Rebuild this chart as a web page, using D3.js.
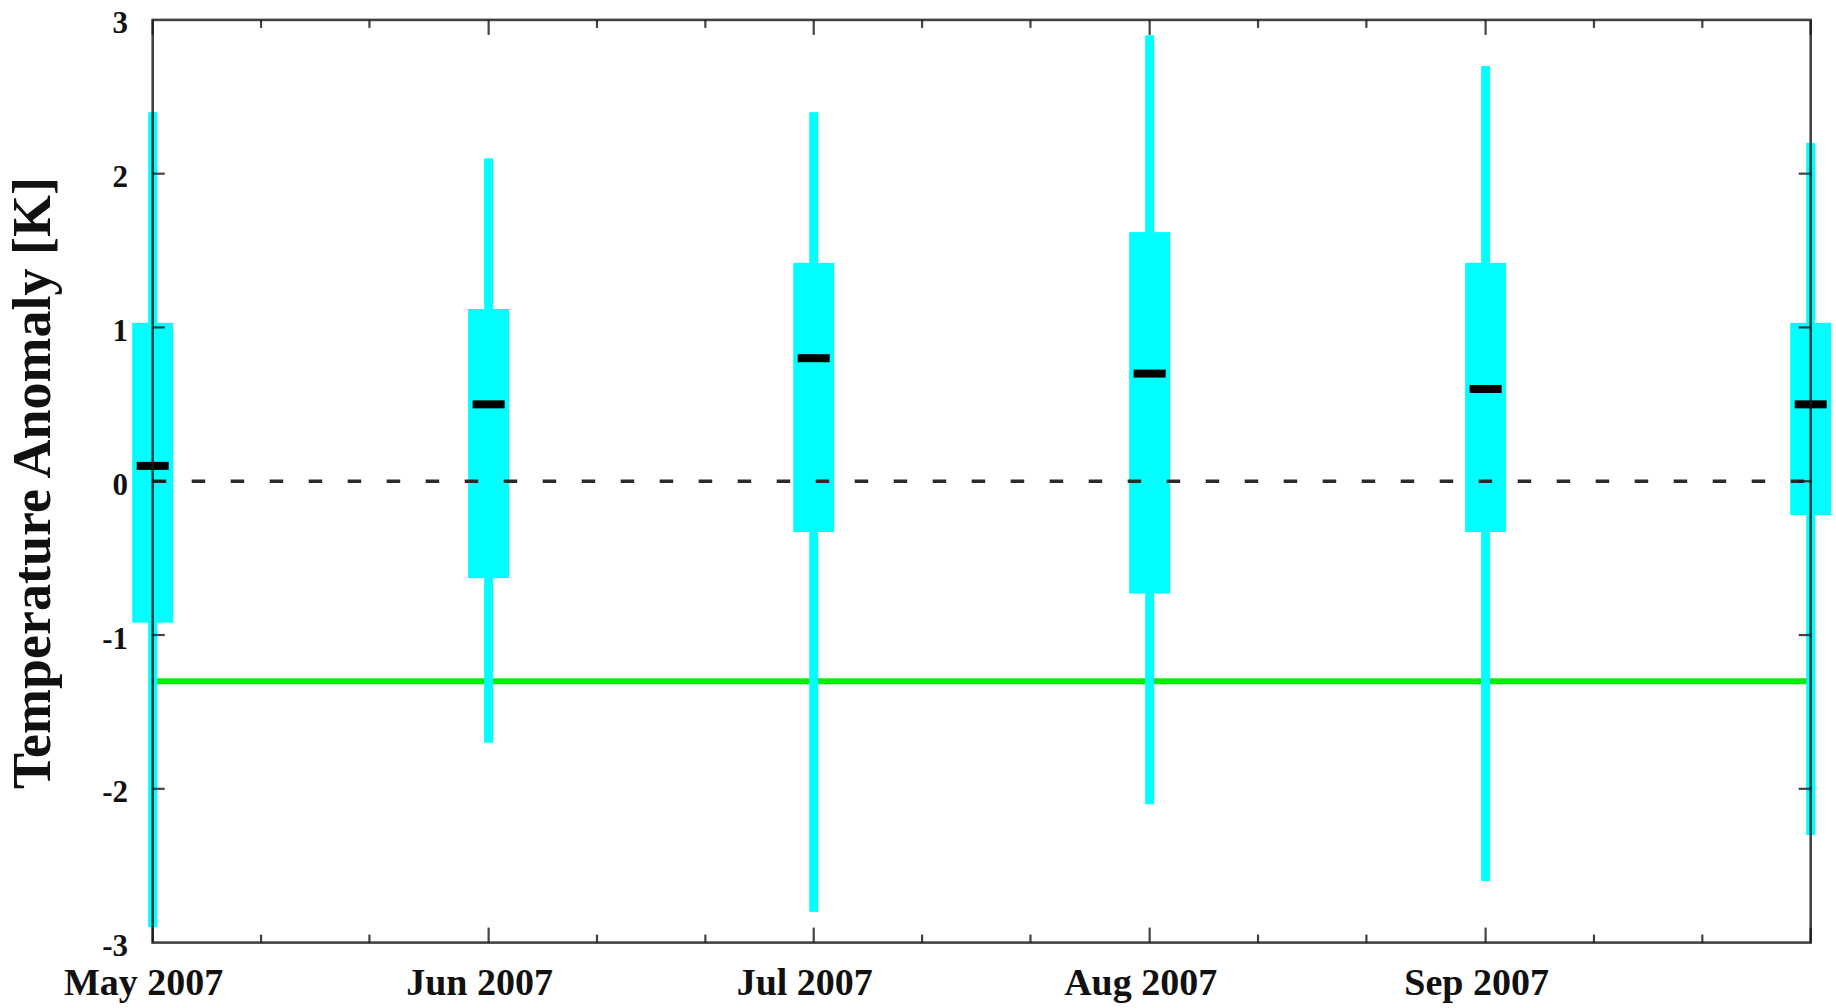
<!DOCTYPE html>
<html>
<head>
<meta charset="utf-8">
<script src="https://cdn.jsdelivr.net/npm/d3@7"></script>
<style>
  html, body { margin: 0; padding: 0; background: #ffffff; }
  svg { display: block; }
  text { font-family: "Liberation Serif", "Times New Roman", serif; fill: #111; }
</style>
</head>
<body>
<svg id="chart" width="1836" height="1008"></svg>
<script>
// ---- data ----
const boxDates    = ["2007-05-01", "2007-06-01", "2007-07-01", "2007-08-01", "2007-09-01", "2007-10-01"];
const whiskerHigh = [2.40, 2.10, 2.40, 2.90, 2.70, 2.20];
const boxHigh     = [1.03, 1.12, 1.42, 1.62, 1.42, 1.03];
const medians     = [0.10, 0.50, 0.80, 0.70, 0.60, 0.50];
const boxLow      = [-0.92, -0.63, -0.33, -0.73, -0.33, -0.22];
const whiskerLow  = [-2.90, -1.70, -2.80, -2.10, -2.60, -2.30];
const threshold   = -1.3;
const zeroLine    = 0;
const yTicks      = [-3, -2, -1, 0, 1, 2, 3];
const xLabelDates = ["2007-05-01", "2007-06-01", "2007-07-01", "2007-08-01", "2007-09-01"];
const xLabels     = ["May 2007", "Jun 2007", "Jul 2007", "Aug 2007", "Sep 2007"];
const yTitle      = "Temperature Anomaly [K]";
const xDomain     = ["2007-05-01", "2007-10-01"];

// ---- layout ----
const parse = s => { const [y, m, d] = s.split("-").map(Number); return new Date(y, m - 1, d); };
const L = 152.7, R = 1810.7, T = 19.9, B = 942.6;

const svg = d3.select("#chart");
const x = d3.scaleTime().domain(xDomain.map(parse)).range([L, R]);
const y = d3.scaleLinear().domain([-3, 3]).range([B, T]);

const rows = boxDates.map((d, i) => ({
  date: parse(d), wh: whiskerHigh[i], bh: boxHigh[i], med: medians[i], bl: boxLow[i], wl: whiskerLow[i]
}));

const CYAN = "#00ffff";
const boxW = 41, whW = 9, medW = 32, medH = 8;

// threshold line (green)
svg.append("line")
  .attr("x1", L).attr("x2", R)
  .attr("y1", y(threshold)).attr("y2", y(threshold))
  .attr("stroke", "#00f000").attr("stroke-width", 6);

// whiskers
svg.append("g").selectAll("rect").data(rows).join("rect")
  .attr("x", d => x(d.date) - whW / 2)
  .attr("width", whW)
  .attr("y", d => y(d.wh))
  .attr("height", d => y(d.wl) - y(d.wh))
  .attr("fill", CYAN);

// boxes
svg.append("g").selectAll("rect").data(rows).join("rect")
  .attr("x", d => x(d.date) - boxW / 2)
  .attr("width", boxW)
  .attr("y", d => y(d.bh))
  .attr("height", d => y(d.bl) - y(d.bh))
  .attr("fill", CYAN);

// dashed zero line
svg.append("line")
  .attr("x1", L).attr("x2", R)
  .attr("y1", y(zeroLine)).attr("y2", y(zeroLine))
  .attr("stroke", "#2a2a2a").attr("stroke-width", 3.5)
  .attr("stroke-dasharray", "13.5,25.5");

// medians
svg.append("g").selectAll("rect").data(rows).join("rect")
  .attr("x", d => x(d.date) - medW / 2)
  .attr("width", medW)
  .attr("y", d => y(d.med) - medH / 2)
  .attr("height", medH)
  .attr("fill", "#000");

// ---- axes / frame ----
const frameColor = "#1a1a1a";
const frame = svg.append("g").attr("stroke", frameColor).attr("stroke-opacity", 0.82).attr("fill", "none");

// x ticks: majors at month starts, minors on 11th and 21st
const months = d3.timeMonth.range(x.domain()[0], d3.timeDay.offset(x.domain()[1], 1));
const minors = [];
months.forEach(m => {
  const a = d3.timeDay.offset(m, 10), b = d3.timeDay.offset(m, 20);
  if (a < x.domain()[1]) minors.push(a);
  if (b < x.domain()[1]) minors.push(b);
});
const xTickData = months.map(d => ({ d, len: 15 })).concat(minors.map(d => ({ d, len: 8 })));

frame.selectAll(".xtb").data(xTickData).join("line")
  .attr("x1", t => x(t.d)).attr("x2", t => x(t.d))
  .attr("y1", B).attr("y2", t => B - t.len)
  .attr("stroke-width", 2.2);
frame.selectAll(".xtt").data(xTickData).join("line")
  .attr("class", "xtt")
  .attr("x1", t => x(t.d)).attr("x2", t => x(t.d))
  .attr("y1", T).attr("y2", t => T + t.len)
  .attr("stroke-width", 2.2);

// y ticks left & right
const yInner = yTicks.filter(v => v > -3 && v < 3);
frame.selectAll(".ytl").data(yInner).join("line")
  .attr("class", "ytl")
  .attr("x1", L).attr("x2", L + 12)
  .attr("y1", v => y(v)).attr("y2", v => y(v))
  .attr("stroke-width", 2.2);
frame.selectAll(".ytr").data(yInner).join("line")
  .attr("class", "ytr")
  .attr("x1", R).attr("x2", R - 12)
  .attr("y1", v => y(v)).attr("y2", v => y(v))
  .attr("stroke-width", 2.2);

// frame rectangle
frame.append("rect")
  .attr("x", L).attr("y", T)
  .attr("width", R - L).attr("height", B - T)
  .attr("stroke-width", 2.6);

// y tick labels
svg.append("g").selectAll("text").data(yTicks).join("text")
  .attr("x", 128)
  .attr("y", v => y(v) + 3)
  .attr("text-anchor", "end")
  .attr("dominant-baseline", "central")
  .attr("font-size", 31)
  .attr("font-weight", "bold")
  .text(v => v);

// x labels
svg.append("g").selectAll("text").data(xLabelDates).join("text")
  .attr("x", d => x(parse(d)) - 9)
  .attr("y", 995)
  .attr("text-anchor", "middle")
  .attr("font-size", 38)
  .attr("font-weight", "bold")
  .text((d, i) => xLabels[i]);

// y title
svg.append("text")
  .attr("transform", "translate(50," + 483 + ") rotate(-90)")
  .attr("text-anchor", "middle")
  .attr("font-size", 54)
  .attr("font-weight", "bold")
  .text(yTitle);
</script>
</body>
</html>
